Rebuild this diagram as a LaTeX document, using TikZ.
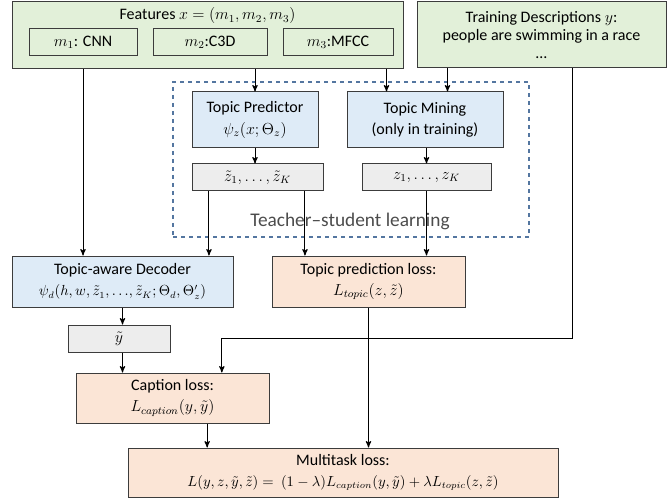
\documentclass[tikz,border=0pt]{standalone}
\usepackage{fontspec}
\setmainfont{Carlito}
\usetikzlibrary{arrows}
\definecolor{featgreen}{RGB}{226,240,217}
\definecolor{topicblue}{RGB}{222,235,247}
\definecolor{valgray}{RGB}{237,237,237}
\definecolor{lossorange}{RGB}{251,229,214}
\definecolor{framegray}{RGB}{60,60,60}
\definecolor{teachblue}{RGB}{84,118,160}

\begin{document}
\begin{tikzpicture}[>=stealth', x=0.75pt, y=-0.75pt]
    \tikzstyle{BoxStyle}=[draw       = framegray,
                          line width = 0.75pt,
                          inner sep  = 0pt,
                          align      = center,
                          font       = \fontsize{12}{16}\selectfont]
    \tikzstyle{FeatStyle}=[BoxStyle,
                           fill = featgreen]
    \tikzstyle{TopicStyle}=[BoxStyle,
                            fill           = topicblue,
                            minimum height = 42pt]
    \tikzstyle{ValStyle}=[BoxStyle,
                          fill           = valgray,
                          minimum height = 20.25pt]
    \tikzstyle{LossStyle}=[BoxStyle,
                           fill = lossorange]
    \tikzstyle{TextStyle}=[inner sep = 0pt,
                           align     = center,
                           font      = \fontsize{12}{13.5}\selectfont]
    \tikzstyle{EdgeStyle}=[->,
                           line width = 0.75pt,
                           black]
    \newcommand{\smallmath}{\fontsize{10.5}{16}\selectfont}
    \useasboundingbox (0,0) rectangle (670,502);
    \node[FeatStyle, minimum width = 293.25pt, minimum height = 50.25pt] (feat) at (207.5,35.5) {};
    \node[TextStyle] (feattitle) at (207.5,16) {Features $x=(m_1,m_2,m_3)$};
    \node[BoxStyle, minimum width = 81pt, minimum height = 20.25pt]   (m1) at (83,42.5)  {$m_1$: CNN};
    \node[BoxStyle, minimum width = 85.5pt, minimum height = 20.25pt] (m2) at (210,42.5) {$m_2$:C3D};
    \node[BoxStyle, minimum width = 82.5pt, minimum height = 20.25pt] (m3) at (338,42.5) {$m_3$:MFCC};
    \node[FeatStyle, minimum width = 186.75pt, minimum height = 49.5pt,
          font = \fontsize{12}{13.25}\selectfont] (train) at (541.5,35)
         {Training Descriptions $y$:\\people are swimming in a race\\…};
    \node[draw = teachblue, dashed, line width = 0.9pt, inner sep = 0pt,
          minimum width = 267pt, minimum height = 116.25pt] (teach) at (351,159.5) {};
    \node[TextStyle, font = \fontsize{14.5}{16}\selectfont, text = black!70] (teachlabel) at (350,221)
         {Teacher–student learning};
    \node[TopicStyle, minimum width = 94.5pt] (pred) at (255,120)
         {Topic Predictor\\$\psi_z(x;\Theta_z)$};
    \node[TopicStyle, minimum width = 117pt]  (mine) at (425,120)
         {Topic Mining\\(only in training)};
    \node[ValStyle, minimum width = 98.25pt]  (zt) at (257.5,177.5) {$\tilde z_1,\ldots,\tilde z_K$};
    \node[ValStyle, minimum width = 96.75pt]  (z)  at (426.5,177.5) {$z_1,\ldots,z_K$};
    \node[TopicStyle, minimum width = 165.75pt, minimum height = 38.25pt] (dec) at (122.5,281.5)
         {Topic-aware Decoder\\{\smallmath$\psi_d(h,w,\tilde z_1,{\ldots},\tilde z_K;\Theta_d,\Theta'_z)$}};
    \node[LossStyle, minimum width = 144.75pt, minimum height = 38.25pt] (tloss) at (368.5,281.5)
         {Topic prediction loss:\\$L_{topic}(z,\tilde z)$};
    \node[ValStyle, minimum width = 76.5pt] (yt) at (119,338.5) {$\tilde y$};
    \node[LossStyle, minimum width = 144.75pt, minimum height = 37.5pt] (closs) at (172.5,398)
         {Caption loss:\\$L_{caption}(y,\tilde y)$};
    \node[LossStyle, minimum width = 322.5pt, minimum height = 36.75pt] (multi) at (343,472.5)
         {Multitask loss:\\{\smallmath$L(y,z,\tilde y,\tilde z)=~(1-\lambda)L_{caption}(y,\tilde y)+\lambda L_{topic}(z,\tilde z)$}};
    \draw[EdgeStyle] (feat.south -| m1) -- (dec.north -| m1);
    \draw[EdgeStyle] (feat.south -| pred) -- (pred.north);
    \draw[EdgeStyle] ([xshift=30pt]mine.north west |- feat.south) -- ([xshift=30pt]mine.north west);
    \draw[EdgeStyle] ([xshift=-42pt]mine.north east |- train.south) -- ([xshift=-42pt]mine.north east);
    \draw[EdgeStyle] ([xshift=23pt]train.south) |- ([xshift=37pt]closs.north |- yt.center)
                     -- ([xshift=37pt]closs.north);
    \draw[EdgeStyle] (pred.south) -- (zt.north -| pred);
    \draw[EdgeStyle] (mine.south -| z) -- (z.north);
    \draw[EdgeStyle] ([xshift=-36.4pt]zt.south) -- ([xshift=-36.4pt]zt.south |- dec.north);
    \draw[EdgeStyle] ([xshift=35.6pt]zt.south) -- ([xshift=35.6pt]zt.south |- tloss.north);
    \draw[EdgeStyle] (z.south) -- (tloss.north -| z);
    \draw[EdgeStyle] (dec.south) -- (yt.north -| dec);
    \draw[EdgeStyle] (yt.south -| dec) -- (closs.north -| dec);
    \draw[EdgeStyle] ([xshift=26pt]closs.south) -- ([xshift=26pt]closs.south |- multi.north);
    \draw[EdgeStyle] (tloss.south) -- (multi.north -| tloss);
\end{tikzpicture}
\end{document}
